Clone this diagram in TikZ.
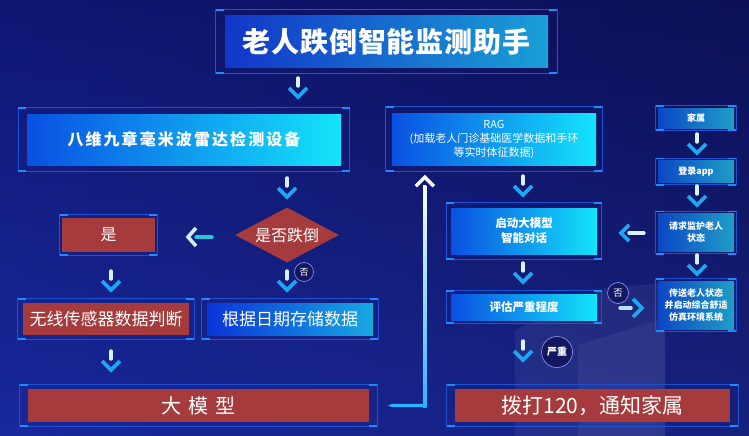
\documentclass[tikz,border=0pt]{standalone}
\usepackage{fontspec}
\setmainfont{Noto Sans CJK SC}
\usetikzlibrary{shapes.geometric,calc}
\definecolor{bgL}{HTML}{111C84}
\definecolor{bgM}{HTML}{2338BA}
\definecolor{bgR}{HTML}{0D0F4C}
\definecolor{bgT}{HTML}{0B1160}
\definecolor{brick}{HTML}{A53B3C}
\definecolor{frm}{HTML}{1E52D2}
\definecolor{tickc}{HTML}{1E8CFF}
\definecolor{arrc}{HTML}{1FA6F2}
\definecolor{gblue}{HTML}{0A50E2}
\definecolor{gcyan}{HTML}{14E4FA}
\definecolor{tblue}{HTML}{1236C8}
\definecolor{tteal}{HTML}{1AA0D6}
\definecolor{dblue}{HTML}{0A34D8}
\definecolor{dteal}{HTML}{18A8E2}
\definecolor{sblue}{HTML}{0C46C6}
\definecolor{steal}{HTML}{1E9EC6}
\definecolor{navy}{HTML}{131760}
\definecolor{connc}{HTML}{2AB4FF}
\definecolor{barteal}{HTML}{27C6DA}
\newcommand{\myframe}[3]{%
  \path ($(#1.north west)+(-#2,-#3)$) coordinate (fNW)
        ($(#1.south east)+(#2,#3)$) coordinate (fSE);
  \draw[frm, line width=0.8pt] (fNW) rectangle (fSE);
  \draw[tickst] (fNW) -- ++(8,0);
  \draw[tickst] (fNW |- fSE) -- ++(8,0);
  \draw[tickst] (fSE) -- ++(-8,0);
  \draw[tickst] (fSE |- fNW) -- ++(-8,0);
}
\begin{document}
\begin{tikzpicture}[x=1pt,y=-1pt,
  tickst/.style={tickc, line width=1.6pt},
  box/.style={rectangle, inner sep=0pt, text=white, align=center},
  redbox/.style={box, fill=brick},
  gbox/.style={box, left color=gblue, middle color=gcyan!80!gblue, right color=gcyan},
  tbox/.style={box, left color=tblue, right color=tteal},
  dbox/.style={box, left color=dblue, middle color=dteal!70!dblue, right color=dteal},
  sbox/.style={box, left color=sblue, right color=steal, minimum width=76pt,
    font=\fontsize{9}{12}\selectfont\bfseries},
  badge/.style={circle, fill=navy, draw=blue!40!white, line width=0.6pt, text=white, inner sep=0pt},
  darr/.pic={
    \draw[line width=3.4pt, line cap=round, white!85!cyan] (0,-11) -- (0,-3);
    \draw[arrc, line width=3.6pt] (-9,-1) -- (0,8) -- (9,-1);
  },
  larrA/.pic={
    \draw[line width=3.4pt, line cap=round, barteal] (-4,0) -- (12,0);
    \draw[white!80!cyan, line width=3.6pt] (-4,-9) -- (-12,0) -- (-4,9);
  },
  larrB/.pic={
    \draw[line width=3.4pt, line cap=round, white!85!cyan] (-3,0) -- (12,0);
    \draw[arrc, line width=3.6pt] (-3,-8) -- (-11,0) -- (-3,8);
  },
  rarr/.pic={
    \draw[line width=3.4pt, line cap=round, white!70!cyan] (-12,0) -- (-1,0);
    \draw[arrc, line width=3.6pt] (1,-9) -- (10,0) -- (1,9);
  },
]
\useasboundingbox (0,0) rectangle (749,436);
% background
\shade[left color=bgL, middle color=bgM, right color=bgR] (0,0) rectangle (749,436);
\shade[top color=bgT, bottom color=bgM, opacity=0.45] (0,0) rectangle (749,436);
% light beam
\fill[white, opacity=0.06] (515,436) -- (515,330) -- (605,288) -- (665,283) -- (665,436) -- cycle;
\fill[white, opacity=0.05] (578,436) -- (578,345) -- (665,318) -- (665,436) -- cycle;

% nodes
\node[tbox, minimum width=323pt, minimum height=51pt,
  font=\fontsize{28}{30}\selectfont\bfseries\addfontfeatures{LetterSpace=3}] (title) at (386.5,41.5)
  {老人跌倒智能监测助手};
\node[gbox, minimum width=314pt, minimum height=51pt,
  font=\fontsize{16}{18}\selectfont\bfseries\addfontfeatures{LetterSpace=13}] (bw) at (184,139.5)
  {八维九章毫米波雷达检测设备};
\node[diamond, aspect=1.9, fill=brick, minimum width=104pt, minimum height=55pt,
  inner sep=0pt, text=white, font=\fontsize{16}{18}\selectfont] (dd) at (287,235) {是否跌倒};
\node[redbox, minimum width=93pt, minimum height=34pt, font=\fontsize{16}{18}\selectfont] (yes) at (108.5,235)
  {是};
\node[redbox, minimum width=166pt, minimum height=32pt, font=\fontsize{17}{19}\selectfont] (wx) at (106,319)
  {无线传感器数据判断};
\node[dbox, minimum width=166pt, minimum height=32pt, font=\fontsize{17}{19}\selectfont] (rq) at (290,319)
  {根据日期存储数据};
\node[redbox, minimum width=341pt, minimum height=33pt, font=\fontsize{20}{22}\selectfont] (dmx) at (198.5,405.5)
  {大\hspace{7pt}模\hspace{7pt}型};
\node[gbox, minimum width=204pt, minimum height=52pt, font=\fontsize{11}{14}\selectfont] (rag) at (494,139)
  {RAG\\(加载老人门诊基础医学数据和手环\\等实时体征数据)};
\node[gbox, minimum width=146pt, minimum height=46pt, font=\fontsize{11.5}{15}\selectfont\bfseries] (llm) at (524,231)
  {启动大模型\\智能对话};
\node[gbox, minimum width=146pt, minimum height=26pt, font=\fontsize{11.5}{14}\selectfont\bfseries] (pg) at (524,307)
  {评估严重程度};
\node[redbox, minimum width=275pt, minimum height=33pt, font=\fontsize{21}{23}\selectfont] (call) at (592.5,405.5)
  {拨打120，通知家属};
\node[sbox, minimum height=20pt] (jz) at (696,118) {家属};
\node[sbox, minimum height=22pt] (dl) at (696,171.5) {登录app};
\node[sbox, minimum height=38pt] (qq) at (696,232.5) {请求监护老人\\状态};
\node[sbox, minimum height=48pt] (cs) at (696,305) {传送老人状态\\并启动综合舒适\\仿真环境系统};

% frames
\myframe{title}{9}{6}
\myframe{bw}{8.5}{6}
\myframe{yes}{2}{3}
\myframe{wx}{5}{4}
\myframe{rq}{5}{4}
\myframe{dmx}{8}{4}
\myframe{rag}{6}{6}
\myframe{llm}{4.5}{5}
\myframe{pg}{4.5}{3}
\myframe{call}{8}{4}
\myframe{jz}{2}{2}
\myframe{dl}{2}{2}
\myframe{qq}{2}{2}
\myframe{cs}{2}{2}

% arrows (icons)
\pic at (298,89) {darr};
\pic at (287,189) {darr};
\pic at (287,282) {darr};
\pic at (111,282) {darr};
\pic at (111,362) {darr};
\pic at (200,237) {larrA};
\pic at (523,187) {darr};
\pic at (523,274) {darr};
\pic at (523,352) {darr};
\pic at (697,145) {darr};
\pic at (697,197) {darr};
\pic at (697,266) {darr};
\pic at (632,233) {larrB};
\pic at (632,308) {rarr};

% badges
\node[badge, minimum size=19pt, font=\fontsize{9}{10}\selectfont] (no1) at (304,272) {否};
\node[badge, minimum size=21pt, font=\fontsize{9.5}{10}\selectfont] (no2) at (618,293) {否};
\node[badge, minimum size=31pt, font=\fontsize{10}{11}\selectfont\bfseries] (sev) at (557,352) {严重};

% connector 大模型 -> RAG
\coordinate (cA) at ($(dmx.east)+(19,0)$);
\coordinate (up) at ($(rag.south west)+(33,12)$);
\shade[top color=white, bottom color=connc] ($(up)+(-1.6,8)$) rectangle ($(cA -| up)+(1.6,1.6)$);
\fill[connc] (cA) -- ++(4,-1.6) -- ($(cA -| up)+(1.6,-1.6)$) -- ($(cA -| up)+(1.6,1.6)$) -- ($(cA)+(4,1.6)$) -- cycle;
\draw[white, line width=3.4pt] ($(up)+(-9,9)$) -- (up) -- ($(up)+(9,9)$);
\end{tikzpicture}
\end{document}
